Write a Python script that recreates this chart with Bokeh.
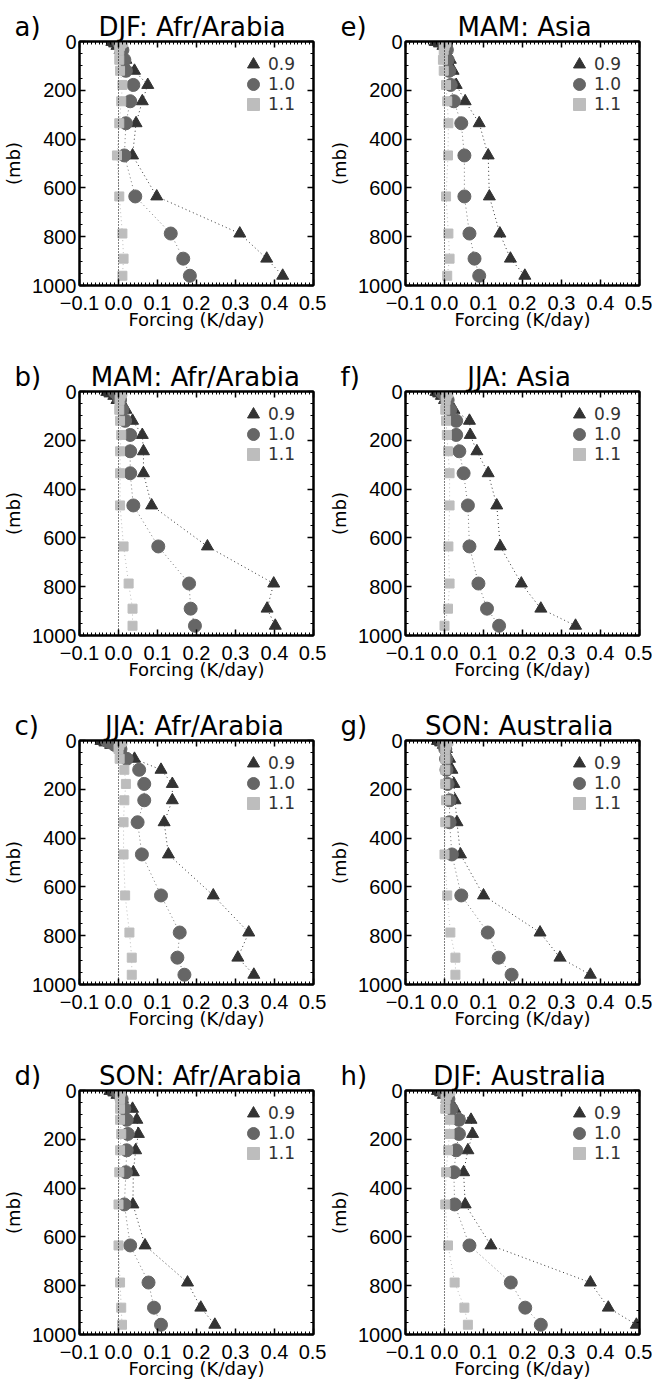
from bokeh.plotting import figure
from bokeh.models import (Range1d, LinearAxis, SingleIntervalTicker, Span, Title,
                          Legend, LegendItem, CustomJSTickFormatter, ColumnDataSource)
from bokeh.layouts import column, row
from bokeh.embed import file_html
from bokeh.resources import INLINE

# pressure levels (mb)
levels = [2, 8, 18, 35, 75, 120, 178, 245, 335, 467, 635, 787, 890, 960]

series_names = ["0.9", "1.0", "1.1"]
letters = ["a)", "b)", "c)", "d)", "e)", "f)", "g)", "h)"]
titles = ["DJF: Afr/Arabia", "MAM: Afr/Arabia", "JJA: Afr/Arabia", "SON: Afr/Arabia",
          "MAM: Asia", "JJA: Asia", "SON: Australia", "DJF: Australia"]

# Forcing (K/day)
a09 = [-0.017, -0.010, -0.004, 0.004, 0.019, 0.041, 0.075, 0.061, 0.045, 0.036, 0.098, 0.311, 0.380, 0.421]
a10 = [0.000, 0.003, 0.006, 0.010, 0.015, 0.019, 0.038, 0.030, 0.019, 0.015, 0.043, 0.134, 0.166, 0.183]
a11 = [0.012, 0.008, 0.004, 0.002, 0.002, 0.004, 0.010, 0.007, 0.002, -0.004, 0.002, 0.010, 0.013, 0.010]

b09 = [-0.030, -0.022, -0.012, -0.004, 0.019, 0.036, 0.061, 0.064, 0.064, 0.085, 0.228, 0.398, 0.381, 0.402]
b10 = [-0.010, -0.005, 0.000, 0.004, 0.010, 0.017, 0.030, 0.030, 0.030, 0.038, 0.102, 0.181, 0.185, 0.196]
b11 = [0.010, 0.008, 0.005, 0.003, 0.002, 0.004, 0.007, 0.004, 0.004, 0.004, 0.013, 0.026, 0.036, 0.036]

c09 = [-0.045, -0.035, -0.020, 0.005, 0.041, 0.109, 0.138, 0.138, 0.117, 0.128, 0.243, 0.334, 0.306, 0.347]
c10 = [-0.030, -0.020, -0.010, 0.005, 0.021, 0.053, 0.066, 0.066, 0.049, 0.060, 0.109, 0.157, 0.151, 0.169]
c11 = [0.010, 0.006, 0.002, 0.000, 0.003, 0.015, 0.019, 0.015, 0.013, 0.013, 0.017, 0.028, 0.034, 0.034]

d09 = [-0.022, -0.012, -0.004, 0.010, 0.036, 0.047, 0.051, 0.044, 0.038, 0.037, 0.068, 0.177, 0.211, 0.247]
d10 = [-0.005, 0.000, 0.004, 0.008, 0.015, 0.021, 0.024, 0.021, 0.019, 0.015, 0.030, 0.077, 0.091, 0.109]
d11 = [0.006, 0.005, 0.004, 0.004, 0.004, 0.004, 0.007, 0.004, 0.002, 0.000, 0.000, 0.004, 0.007, 0.009]

e09 = [-0.024, -0.013, -0.004, 0.004, 0.015, 0.022, 0.030, 0.053, 0.089, 0.112, 0.115, 0.142, 0.169, 0.206]
e10 = [0.000, 0.002, 0.004, 0.006, 0.008, 0.012, 0.016, 0.024, 0.043, 0.051, 0.051, 0.064, 0.077, 0.089]
e11 = [0.004, 0.002, 0.000, -0.002, -0.004, -0.002, 0.004, 0.007, 0.010, 0.009, 0.004, 0.010, 0.013, 0.007]

f09 = [-0.022, -0.015, -0.008, 0.000, 0.024, 0.064, 0.066, 0.083, 0.112, 0.134, 0.143, 0.197, 0.247, 0.336]
f10 = [-0.008, -0.003, 0.002, 0.008, 0.015, 0.030, 0.030, 0.038, 0.049, 0.060, 0.064, 0.087, 0.109, 0.140]
f11 = [0.010, 0.008, 0.005, 0.003, 0.002, 0.004, 0.006, 0.009, 0.013, 0.013, 0.010, 0.013, 0.009, 0.000]

g09 = [-0.018, -0.010, -0.003, 0.005, 0.013, 0.019, 0.024, 0.027, 0.032, 0.041, 0.100, 0.245, 0.296, 0.374]
g10 = [-0.005, -0.002, 0.000, 0.002, 0.004, 0.005, 0.008, 0.013, 0.013, 0.019, 0.043, 0.111, 0.139, 0.172]
g11 = [0.010, 0.007, 0.004, 0.002, 0.002, 0.002, 0.002, 0.004, 0.002, 0.000, 0.007, 0.015, 0.028, 0.028]

h09 = [-0.018, -0.010, -0.003, 0.006, 0.026, 0.068, 0.072, 0.060, 0.049, 0.053, 0.119, 0.374, 0.420, 0.492]
h10 = [-0.005, 0.000, 0.005, 0.010, 0.018, 0.037, 0.037, 0.030, 0.024, 0.026, 0.064, 0.170, 0.207, 0.247]
h11 = [0.015, 0.010, 0.006, 0.003, 0.002, 0.013, 0.013, 0.009, 0.004, 0.002, 0.009, 0.026, 0.051, 0.060]

panel_data = [(a09, a10, a11), (b09, b10, b11), (c09, c10, c11), (d09, d10, d11),
              (e09, e10, e11), (f09, f10, f11), (g09, g10, g11), (h09, h10, h11)]

marker_types = ["triangle", "circle", "square"]
marker_sizes = [12, 13, 9]
marker_colors = ["#333333", "#666666", "#bdbdbd"]
line_colors = ["#333333", "#777777", "#bdbdbd"]

TICK_FONT = "Liberation Sans"
TEXT_FONT = "DejaVu Sans"
TITLE_PX = 26
FRAME_W = 235
FRAME_H = 244
FIG_W = 326
TOP = 41
LEFT = 78
ROW_HEIGHTS = [350, 349, 350, 336]

# approximate DejaVu Sans advance widths (em) used to centre the title text
ADV = {" ": 0.318, ":": 0.337, "/": 0.337, ")": 0.390, "a": 0.613, "b": 0.635, "e": 0.615,
       "f": 0.352, "g": 0.635, "h": 0.634, "c": 0.550, "d": 0.635, "i": 0.278, "l": 0.278,
       "r": 0.411, "s": 0.521, "t": 0.392, "u": 0.634, "A": 0.684, "D": 0.770, "F": 0.575,
       "J": 0.295, "M": 0.863, "N": 0.748, "O": 0.787, "S": 0.635}


def text_w(s):
    return sum(ADV.get(ch, 0.6) for ch in s) * TITLE_PX


xfmt = CustomJSTickFormatter(code="""
  if (Math.abs(tick) < 1e-9) { return "0.0"; }
  return tick.toFixed(1).replace("-", "\u2212");
""")


def style_axis(ax, show_labels):
    ax.axis_line_color = "black"
    ax.axis_line_width = 2
    ax.major_tick_in = 6
    ax.major_tick_out = 0
    ax.minor_tick_in = 3
    ax.minor_tick_out = 0
    ax.major_tick_line_width = 1.5
    ax.minor_tick_line_width = 1
    ax.major_tick_line_color = "black"
    ax.minor_tick_line_color = "black"
    if show_labels:
        ax.major_label_text_font = TICK_FONT
        ax.major_label_text_font_size = "20px"
        ax.major_label_text_color = "black"
    else:
        ax.formatter = CustomJSTickFormatter(code='return "";')
        ax.major_label_text_font_size = "1px"
        ax.major_label_standoff = 0


def make_panel(idx, row_i):
    s09, s10, s11 = panel_data[idx]
    h = ROW_HEIGHTS[row_i]
    p = figure(width=FIG_W, height=h, x_range=Range1d(-0.1, 0.5), y_range=Range1d(1000, 0),
               output_backend="svg", toolbar_location=None,
               min_border_left=LEFT, min_border_right=FIG_W - LEFT - FRAME_W,
               min_border_top=TOP, min_border_bottom=h - TOP - FRAME_H)
    p.grid.visible = False
    p.outline_line_color = "black"
    p.outline_line_width = 2
    p.background_fill_color = "white"

    p.xaxis.ticker = SingleIntervalTicker(interval=0.1, num_minor_ticks=10)
    p.yaxis.ticker = SingleIntervalTicker(interval=200, num_minor_ticks=4)
    p.xaxis.formatter = xfmt
    for ax in p.xaxis:
        style_axis(ax, True)
        ax.major_label_standoff = 10
        ax.axis_label = "Forcing (K/day)"
        ax.axis_label_text_font = TEXT_FONT
        ax.axis_label_text_font_size = "18px"
        ax.axis_label_text_font_style = "normal"
        ax.axis_label_text_color = "black"
        ax.axis_label_standoff = -4
    for ax in p.yaxis:
        style_axis(ax, True)
        ax.major_label_standoff = 3
        ax.axis_label = "(mb)"
        ax.axis_label_text_font = TEXT_FONT
        ax.axis_label_text_font_size = "18px"
        ax.axis_label_text_font_style = "normal"
        ax.axis_label_text_color = "black"
        ax.axis_label_standoff = 5

    top_ax = LinearAxis(ticker=SingleIntervalTicker(interval=0.1, num_minor_ticks=10))
    style_axis(top_ax, False)
    p.add_layout(top_ax, "above")
    right_ax = LinearAxis(ticker=SingleIntervalTicker(interval=200, num_minor_ticks=4))
    style_axis(right_ax, False)
    p.add_layout(right_ax, "right")

    p.add_layout(Span(location=0, dimension="height", line_color="black",
                      line_dash="1 2", line_width=1))

    for k, vals in enumerate((s09, s10, s11)):
        src = ColumnDataSource(dict(x=vals, y=levels))
        p.line("x", "y", source=src, line_color=line_colors[k], line_dash="1 3", line_width=1)
        r = p.scatter("x", "y", source=src, marker=marker_types[k], size=marker_sizes[k],
                      fill_color=marker_colors[k], line_color=marker_colors[k])
        # one legend per entry, stacked 20 px apart
        top_off = 8 + 20 * k
        leg = Legend(items=[LegendItem(label=series_names[k], renderers=[r])],
                     location=(FRAME_W - 76, FRAME_H - top_off - 30), padding=0, margin=0,
                     glyph_width=30, glyph_height=30, label_height=30,
                     label_standoff=-3, label_text_font=TEXT_FONT, label_text_font_size="17px",
                     label_text_color="#333333", background_fill_alpha=0,
                     border_line_color=None)
        p.add_layout(leg)

    # panel letter at the far left, region title centred over the frame
    letter = letters[idx]
    main = titles[idx]
    letter_start = -65.0
    letter_end = letter_start + text_w(letter)
    main_start = (FRAME_W - text_w(main)) / 2.0
    n_sp = max(1, int(round((main_start - letter_end) / (ADV[" "] * TITLE_PX))))
    t = Title(text=letter + "\u00a0" * n_sp + main, align="left", offset=letter_start,
              text_font=TEXT_FONT, text_font_size=f"{TITLE_PX}px", text_font_style="normal",
              text_color="black", standoff=0)
    p.title = t
    return p


rows = []
for r_i in range(4):
    left = make_panel(r_i, r_i)
    right = make_panel(r_i + 4, r_i)
    rows.append(row(left, right))

layout = column(*rows)
open("out.html", "w").write(file_html(layout, INLINE))
